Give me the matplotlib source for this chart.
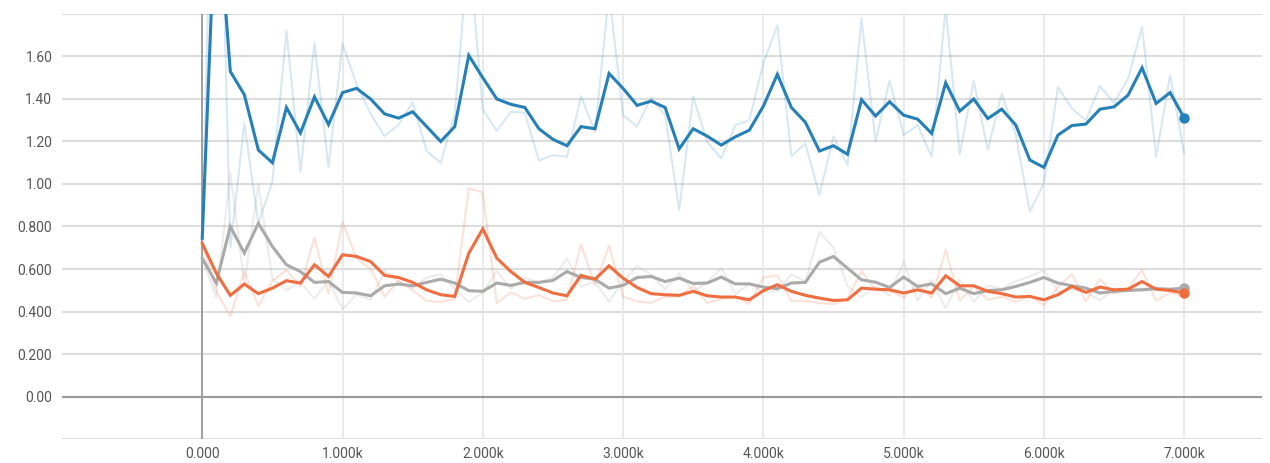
import matplotlib
matplotlib.use('Agg')
import matplotlib.pyplot as plt

# training steps, one point every 100
steps = list(range(0, 7001, 100))

# blue run
blue_raw = [0.745, 3.39, 0.70, 1.285, 0.815, 1.01, 1.72, 1.058, 1.665, 1.08,
  1.66, 1.47, 1.33, 1.225, 1.28, 1.385, 1.155, 1.10, 1.33, 2.11,
  1.35, 1.25, 1.34, 1.335, 1.11, 1.136, 1.128, 1.413, 1.246, 1.90,
  1.324, 1.27, 1.407, 1.324, 0.878, 1.41, 1.199, 1.12, 1.277, 1.30,
  1.567, 1.747, 1.131, 1.19, 0.948, 1.225, 1.089, 1.78, 1.20, 1.488,
  1.23, 1.277, 1.128, 1.83, 1.14, 1.485, 1.16, 1.426, 1.23, 0.87,
  1.003, 1.457, 1.355, 1.30, 1.46, 1.382, 1.496, 1.739, 1.128, 1.512,
  1.144]
blue_smooth = [0.745, 2.40, 1.53, 1.42, 1.16, 1.10, 1.36, 1.24, 1.41, 1.28,
  1.43, 1.45, 1.40, 1.33, 1.31, 1.34, 1.27, 1.20, 1.27, 1.605,
  1.50, 1.40, 1.375, 1.36, 1.26, 1.21, 1.18, 1.27, 1.26, 1.52,
  1.45, 1.37, 1.39, 1.36, 1.165, 1.26, 1.225, 1.183, 1.222, 1.253,
  1.366, 1.516, 1.36, 1.29, 1.155, 1.18, 1.14, 1.397, 1.32, 1.387,
  1.324, 1.305, 1.238, 1.476, 1.343, 1.40, 1.308, 1.352, 1.277, 1.113,
  1.078, 1.23, 1.275, 1.282, 1.352, 1.363, 1.418, 1.547, 1.379, 1.43,
  1.311]

# orange run
orange_raw = [0.721, 0.495, 0.376, 0.59, 0.425, 0.545, 0.595, 0.518, 0.748, 0.485,
  0.82, 0.65, 0.60, 0.47, 0.545, 0.50, 0.45, 0.445, 0.46, 0.98,
  0.96, 0.44, 0.49, 0.46, 0.477, 0.448, 0.455, 0.715, 0.525, 0.71,
  0.47, 0.448, 0.44, 0.47, 0.47, 0.52, 0.44, 0.46, 0.47, 0.435,
  0.56, 0.57, 0.45, 0.45, 0.44, 0.435, 0.46, 0.59, 0.50, 0.50,
  0.465, 0.525, 0.465, 0.69, 0.45, 0.52, 0.455, 0.47, 0.445, 0.475,
  0.43, 0.515, 0.577, 0.448, 0.553, 0.483, 0.51, 0.595, 0.45, 0.49,
  0.47]
orange_smooth = [0.721, 0.58, 0.476, 0.529, 0.484, 0.51, 0.545, 0.534, 0.62, 0.565,
  0.667, 0.659, 0.635, 0.57, 0.56, 0.537, 0.502, 0.479, 0.471, 0.674,
  0.789, 0.651, 0.588, 0.537, 0.513, 0.487, 0.474, 0.57, 0.552, 0.615,
  0.557, 0.513, 0.484, 0.479, 0.476, 0.495, 0.474, 0.468, 0.468, 0.455,
  0.498, 0.526, 0.495, 0.476, 0.463, 0.452, 0.455, 0.51, 0.505, 0.502,
  0.487, 0.502, 0.487, 0.568, 0.521, 0.521, 0.495, 0.484, 0.468, 0.471,
  0.455, 0.479, 0.518, 0.49, 0.515, 0.502, 0.505, 0.541, 0.505, 0.499,
  0.487]

# gray run
gray_raw = [0.651, 0.465, 1.055, 0.53, 1.0, 0.555, 0.50, 0.54, 0.46, 0.547,
  0.41, 0.48, 0.455, 0.59, 0.54, 0.51, 0.56, 0.575, 0.507, 0.445,
  0.49, 0.59, 0.507, 0.558, 0.537, 0.56, 0.65, 0.518, 0.54, 0.447,
  0.543, 0.615, 0.573, 0.505, 0.58, 0.495, 0.537, 0.605, 0.482, 0.53,
  0.492, 0.495, 0.575, 0.542, 0.775, 0.70, 0.52, 0.467, 0.52, 0.475,
  0.635, 0.452, 0.548, 0.415, 0.55, 0.445, 0.522, 0.507, 0.542, 0.565,
  0.595, 0.495, 0.502, 0.493, 0.452, 0.507, 0.505, 0.507, 0.515, 0.502,
  0.517]
gray_smooth = [0.651, 0.534, 0.80, 0.675, 0.815, 0.706, 0.62, 0.588, 0.537, 0.541,
  0.49, 0.487, 0.474, 0.521, 0.529, 0.521, 0.537, 0.552, 0.534, 0.498,
  0.495, 0.534, 0.523, 0.537, 0.537, 0.546, 0.588, 0.56, 0.552, 0.51,
  0.523, 0.56, 0.565, 0.541, 0.557, 0.532, 0.534, 0.562, 0.53, 0.53,
  0.515, 0.507, 0.534, 0.537, 0.632, 0.659, 0.604, 0.549, 0.538, 0.513,
  0.562, 0.518, 0.53, 0.484, 0.51, 0.484, 0.499, 0.502, 0.518, 0.537,
  0.56, 0.534, 0.521, 0.51, 0.487, 0.495, 0.499, 0.502, 0.507, 0.505,
  0.51]

y_ticks = [-0.2, 0.0, 0.2, 0.4, 0.6, 0.8, 1.0, 1.2, 1.4, 1.6, 1.8]
y_labels = ['', '0.00', '0.200', '0.400', '0.600', '0.800', '1.00', '1.20', '1.40', '1.60', '']
x_ticks = [-1000, 0, 1000, 2000, 3000, 4000, 5000, 6000, 7000]
x_labels = ['', '0.000', '1.000k', '2.000k', '3.000k', '4.000k', '5.000k', '6.000k', '7.000k']

RUNS = [
  ('gray', gray_raw, gray_smooth, '#aaaaaa', 0.22),
  ('orange', orange_raw, orange_smooth, '#ef6d3f', 0.2),
  ('blue', blue_raw, blue_smooth, '#2680b8', 0.18),
]


def main():
  plt.rcParams['font.family'] = ['Roboto', 'DejaVu Sans']
  fig = plt.figure(figsize=(12.7, 4.63), dpi=100)
  ax = fig.add_axes([0.0488, 0.0518, 0.9449, 0.918])

  ax.set_xlim(-998, 7555)
  ax.set_ylim(-0.2, 1.8)

  ax.set_yticks(y_ticks)
  ax.set_yticklabels(y_labels)
  ax.set_xticks(x_ticks)
  ax.set_xticklabels(x_labels)
  ax.tick_params(length=0, labelsize=10, labelcolor='#555555')
  ax.tick_params(axis='y', pad=7)
  ax.tick_params(axis='x', pad=6)

  for s in ax.spines.values():
    s.set_visible(False)

  # grid: horizontal every 0.2, vertical every 1k (not at the left edge)
  for v in y_ticks:
    ax.axhline(v, color='#dddddd', lw=1.5, zorder=0)
  for v in x_ticks[1:]:
    ax.axvline(v, color='#e6e6e6', lw=1.2, zorder=0)
  ax.axhline(0, color='#999999', lw=1.5, zorder=1)
  ax.axvline(0, color='#999999', lw=1.3, zorder=1)

  # faint raw curves first, smoothed on top
  for i, (name, raw, smooth, color, alpha) in enumerate(RUNS):
    ax.plot(steps, raw, color=color, alpha=alpha, lw=1.5, zorder=2 + i * 0.1)
  for i, (name, raw, smooth, color, alpha) in enumerate(RUNS):
    ax.plot(steps, smooth, color=color, lw=2.2, zorder=3 + i, solid_joinstyle='miter')
    ax.plot(steps[-1], smooth[-1], 'o', color=color, ms=6.5, zorder=3 + i)

  fig.savefig('out.png', dpi=100)


if __name__ == '__main__':
  main()
